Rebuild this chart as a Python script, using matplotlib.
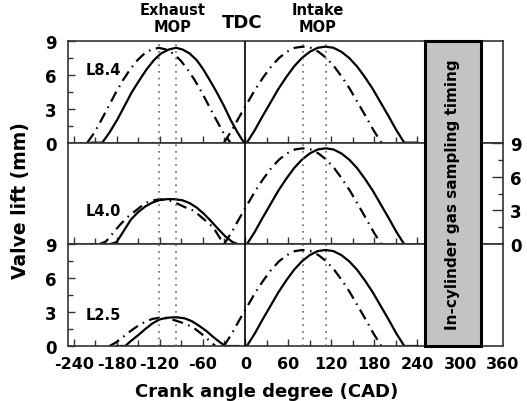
import matplotlib
matplotlib.use("Agg")
import matplotlib.pyplot as plt
from matplotlib.patches import Rectangle
from matplotlib.ticker import MultipleLocator

plt.rcParams['font.family'] = ['DejaVu Sans']
plt.rcParams['font.weight'] = 'bold'

# intake valve lift, same in all three panels
int_solid_x = [2, 13, 24, 35, 46, 57, 68, 79, 90, 101, 112, 123, 134, 145, 156, 167, 178, 189, 200, 211, 222, 240]
int_solid_y = [0, 1.1, 2.35, 3.55, 4.75, 5.8, 6.75, 7.5, 8.05, 8.4, 8.5, 8.4, 8.05, 7.5, 6.75, 5.8, 4.75, 3.55, 2.35, 1.1, 0, 0]
int_dash_x = [-30, -19, -8, 3, 14, 25, 36, 47, 58, 69, 80, 91, 102, 113, 124, 135, 146, 157, 168, 179, 190]
int_dash_y = [0, 1.1, 2.35, 3.55, 4.75, 5.8, 6.75, 7.5, 8.05, 8.4, 8.5, 8.4, 8.05, 7.5, 6.75, 5.8, 4.75, 3.55, 2.35, 1.1, 0]

# exhaust valve lift per panel
exh_labels = ["L8.4", "L4.0", "L2.5"]
exh_label_y = [6.5, 3.0, 2.8]

exh84_solid_x = [-215, -200, -190, -179, -169, -159, -148, -138, -128, -118, -107, -97, -88, -78, -68, -59, -50, -40, -30, -21, -11, -2]
exh84_solid_y = [0, 0, 0.9, 2.05, 3.25, 4.45, 5.55, 6.5, 7.3, 7.9, 8.25, 8.4, 8.25, 7.9, 7.3, 6.5, 5.55, 4.45, 3.25, 2.05, 0.9, 0]
exh84_dash_x = [-221, -211, -201, -191, -181, -171, -161, -151, -141, -131, -121, -111, -101, -91, -81, -71, -61, -51, -41, -31, -21]
exh84_dash_y = [0, 0.9, 2.05, 3.25, 4.45, 5.55, 6.5, 7.3, 7.9, 8.25, 8.4, 8.25, 7.9, 7.3, 6.5, 5.55, 4.45, 3.25, 2.05, 0.9, 0]

exh40_solid_x = [-190, -180, -170, -160, -150, -140, -130, -120, -110, -100, -88, -78, -68, -58, -48, -38, -28, -18, -10, 0]
exh40_solid_y = [0, 0.2, 1.2, 2.2, 2.85, 3.35, 3.7, 3.92, 4.0, 4.0, 3.9, 3.65, 3.25, 2.7, 2.05, 1.35, 0.7, 0.2, 0, 0]
exh40_dash_x = [-205, -195, -185, -175, -165, -155, -145, -135, -120, -105, -95, -85, -75, -65, -55, -45, -38, -30]
exh40_dash_y = [0, 0.25, 1.0, 1.75, 2.4, 2.9, 3.4, 3.8, 4.0, 3.85, 3.6, 3.3, 3.05, 2.6, 2.05, 1.5, 0.8, 0]

exh25_solid_x = [-180, -168, -160, -150, -140, -130, -120, -110, -97, -85, -75, -65, -55, -45, -35, -28, -10]
exh25_solid_y = [0, 0, 0.45, 0.95, 1.5, 2.0, 2.35, 2.5, 2.55, 2.45, 2.2, 1.8, 1.35, 0.8, 0.3, 0, 0]
exh25_dash_x = [-190, -180, -170, -160, -150, -140, -130, -120, -110, -100, -90, -80, -70, -60, -50, -42]
exh25_dash_y = [0, 0.35, 0.85, 1.35, 1.8, 2.15, 2.4, 2.5, 2.45, 2.3, 2.1, 1.85, 1.5, 1.0, 0.45, 0]

exh_solid = [(exh84_solid_x, exh84_solid_y), (exh40_solid_x, exh40_solid_y), (exh25_solid_x, exh25_solid_y)]
exh_dash = [(exh84_dash_x, exh84_dash_y), (exh40_dash_x, exh40_dash_y), (exh25_dash_x, exh25_dash_y)]

mop_lines = [-121, -97, 80, 113]
sampling_window = (251, 329)
x_ticks = [-240, -180, -120, -60, 0, 60, 120, 180, 240, 300, 360]
x_minor = [-210, -150, -90, -30, 30, 90, 150, 210]
y_ticks = [0, 3, 6, 9]

XLIM = (-248, 360)
DASHDOT = (0, (5, 2.5, 0.7, 2.5))
FRAME = '#333333'

fig = plt.figure(figsize=(5.27, 4.02), dpi=100)
left, width = 0.129, 0.8255
bottom, panel_h = 0.1368, 0.2529

axes = []
for i in range(3):
    ax = fig.add_axes([left, bottom + (2 - i) * panel_h, width, panel_h])
    axes.append(ax)
    ax.set_xlim(*XLIM)
    ax.set_ylim(0, 9)
    for s in ax.spines.values():
        s.set_color(FRAME)
        s.set_linewidth(1.2)

    ax.plot(int_solid_x, int_solid_y, color='black', lw=1.6)
    ax.plot(int_dash_x, int_dash_y, color='black', lw=1.6, linestyle=DASHDOT)
    ax.plot(*exh_solid[i], color='black', lw=1.6)
    ax.plot(*exh_dash[i], color='black', lw=1.6, linestyle=DASHDOT)
    ax.text(-198, exh_label_y[i], exh_labels[i], ha='center', va='center', fontsize=10.5, fontweight='bold')

    ax.set_xticks(x_ticks)
    ax.set_xticks(x_minor, minor=True)
    ax.tick_params(axis='x', which='both', direction='in', width=1, color=FRAME, top=False)
    ax.tick_params(axis='x', which='major', length=5, labelsize=11.5, pad=7)
    ax.tick_params(axis='x', which='minor', length=4)
    for t in ax.xaxis.get_major_ticks()[-2:]:
        t.tick1line.set_visible(False)
    if i < 2:
        ax.tick_params(axis='x', labelbottom=False)
    else:
        ax.set_xticklabels([str(v) for v in x_ticks])

    ax.set_yticks(y_ticks)
    ax.yaxis.set_minor_locator(MultipleLocator(1.5))
    if i == 1:
        ax.tick_params(axis='y', which='both', left=False, labelleft=False, right=True,
                       labelright=True, direction='in', color=FRAME, width=1)
        ax.tick_params(axis='y', which='major', length=8, labelsize=12, pad=5)
        ax.tick_params(axis='y', which='minor', length=3.5)
    else:
        ax.tick_params(axis='y', which='both', direction='in', color=FRAME, width=1, right=False)
        ax.tick_params(axis='y', which='major', length=5, labelsize=12, pad=8)
        ax.tick_params(axis='y', which='minor', length=3.5)

# overlay spanning all panels: TDC line, MOP lines, sampling box
ov = fig.add_axes([left, bottom, width, 3 * panel_h])
ov.set_xlim(*XLIM)
ov.set_ylim(0, 1)
ov.axis('off')
ov.axvline(0, color='black', lw=1.2)
for m in mop_lines:
    ov.axvline(m, color='#666666', lw=1.2, linestyle=(0, (1, 3)))
ov.add_patch(Rectangle((sampling_window[0], 0), sampling_window[1] - sampling_window[0], 1,
                       facecolor='#c3c3c3', edgecolor='black', lw=2.2, clip_on=False))
ov.text(sum(sampling_window) / 2, 0.5, "In-cylinder gas sampling timing", rotation=90,
        ha='center', va='center', fontsize=11, fontweight='bold')

fig.text(0.038, 0.502, "Valve lift (mm)", rotation=90, ha='center', va='center',
         fontsize=13.5, fontweight='bold')
fig.text(0.505, 0.024, "Crank angle degree (CAD)", ha='center', va='center',
         fontsize=13, fontweight='bold')
fig.text(173 / 527, 1 - 19 / 402, "Exhaust\nMOP", ha='center', va='center',
         fontsize=10.5, fontweight='bold', linespacing=1.2)
fig.text(318 / 527, 1 - 19 / 402, "Intake\nMOP", ha='center', va='center',
         fontsize=10.5, fontweight='bold', linespacing=1.2)
fig.text(242 / 527, 1 - 23 / 402, "TDC", ha='center', va='center',
         fontsize=13, fontweight='bold')

fig.savefig("out.png", dpi=100)
